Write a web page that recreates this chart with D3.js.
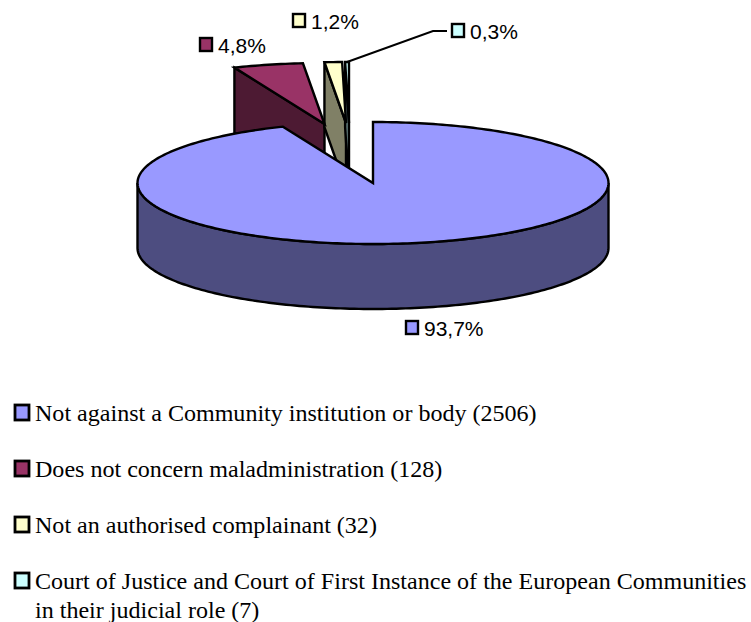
<!DOCTYPE html>
<html><head><meta charset="utf-8">
<script src="https://cdn.jsdelivr.net/npm/d3@7/dist/d3.min.js"></script>
<style>html,body{margin:0;padding:0;background:#fff}svg{display:block}</style>
</head><body><svg id="c" width="751" height="622"></svg>
<script>
const categories = ["Not against a Community institution or body (2506)","Does not concern maladministration (128)","Not an authorised complainant (32)","Court of Justice and Court of First Instance of the European Communities|in their judicial role (7)"];
const values = [2506,128,32,7];
const percentLabels = ["93,7%","4,8%","1,2%","0,3%"];
const topColors = ["#9999FF","#993366","#FFFFCC","#CCFFFF"];
const sideColors = ["#4D4D80","#4D1A33","#808066","#668080"];
const explodeX = [0,-48.5,-27,-24];
const explodeY = [0,-59,-60,-60];
const labelSwatch = [[406,321],[200,38],[293,14],[452,24]];
const legendY = [404,460,516,572];

const svg = d3.select("#c");
const cx=373, cy=183, rx=235.5, ry=61, depth=65, sw=2.4;
const ink="#000";
const pie = d3.pie().sort(null).value(d=>d);
const arcs = pie(values);
const px = d3.scaleLinear().domain([-1,1]).range([cx-rx,cx+rx]);
const py = d3.scaleLinear().domain([-1,1]).range([cy-ry,cy+ry]);
const pt = (a,i,dz=0)=>[px(Math.sin(a))+explodeX[i], py(-Math.cos(a))+explodeY[i]+dz];
const line = d3.line();
const samples = (a0,a1)=>{const n=Math.max(2,Math.ceil((a1-a0)/0.02));return d3.range(n+1).map(k=>a0+(a1-a0)*k/n);};

function drawSide(i,pts){svg.append("path").attr("d",line(pts)+"Z").attr("fill",sideColors[i]).attr("stroke",ink).attr("stroke-width",sw).attr("stroke-linejoin","miter");}
function drawTop(i){
  const a=arcs[i];
  const apex=[px(0)+explodeX[i],py(0)+explodeY[i]];
  const pts=[apex,...samples(a.startAngle,a.endAngle).map(t=>pt(t,i))];
  svg.append("path").attr("d",line(pts)+"Z").attr("fill",topColors[i]).attr("stroke",ink).attr("stroke-width",sw).attr("stroke-linejoin","miter");
}
// exploded slices (back), then main slice in front
[1,2,3].forEach(i=>{
  const a=arcs[i];
  const apex=[px(0)+explodeX[i],py(0)+explodeY[i]];
  const s=pt(a.startAngle,i);
  drawSide(i,[s,apex,[apex[0],apex[1]+depth],[s[0],s[1]+depth]]);
});
[1,2,3].forEach(drawTop);
// leader line
const lead=pt((arcs[3].startAngle+arcs[3].endAngle)/2,3);
svg.append("path").attr("d",line([lead,[433,31],[447,31]])).attr("fill","none").attr("stroke",ink).attr("stroke-width",2);
// main side wall
const t=samples(Math.PI/2,3*Math.PI/2);
drawSide(0,[...t.map(a=>pt(a,0)),...t.slice().reverse().map(a=>pt(a,0,depth))]);
drawTop(0);

// data labels
percentLabels.forEach((s,i)=>{
  const [x,y]=labelSwatch[i];
  svg.append("rect").attr("x",x).attr("y",y).attr("width",12).attr("height",13).attr("fill",topColors[i]).attr("stroke",ink).attr("stroke-width",2.4);
  svg.append("text").attr("x",x+18).attr("y",y+15).attr("font-family","'Liberation Sans',Arial,sans-serif").attr("font-size",21).attr("fill","#000").text(s);
});
// legend
categories.forEach((s,i)=>{
  const y=legendY[i];
  svg.append("rect").attr("x",15).attr("y",y+1).attr("width",14).attr("height",15).attr("fill",topColors[i]).attr("stroke",ink).attr("stroke-width",2.8);
  s.split("|").forEach((l,k)=>{
    svg.append("text").attr("x",35).attr("y",y+17+k*29).attr("font-family","'Liberation Serif','Times New Roman',serif").attr("font-size",24.05).attr("fill","#000").text(l);
  });
});
</script></body></html>
